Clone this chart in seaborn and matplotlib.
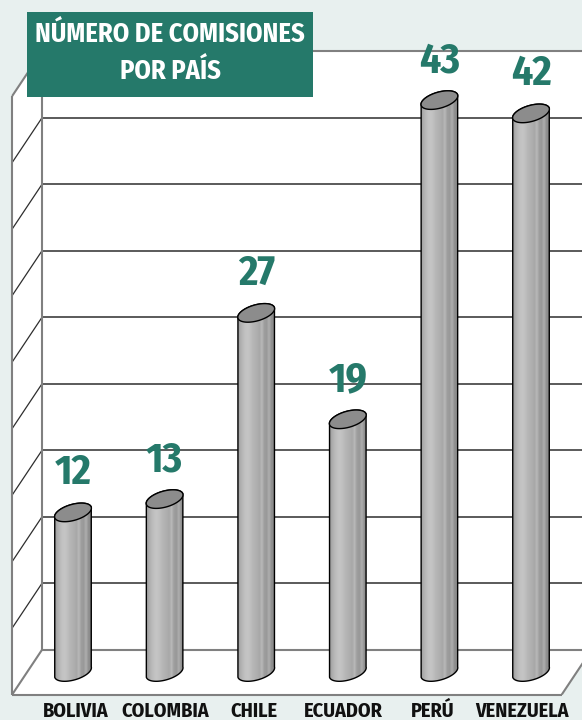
import numpy as np
import pandas as pd
import seaborn as sns
import matplotlib.pyplot as plt
from matplotlib.patches import Polygon, Rectangle

# data
countries = ["BOLIVIA", "COLOMBIA", "CHILE", "ECUADOR", "PERÚ", "VENEZUELA"]
comisiones = [12, 13, 27, 19, 43, 42]
levels = list(range(0, 50, 5))
title_lines = ["NÚMERO DE COMISIONES", "POR PAÍS"]

BG = '#e8f0ef'
GREEN = '#25796a'
WALL = '#808080'
GRID = '#2e2e2e'

sns.set_style('white')
plt.rcParams['font.family'] = ['Fira Sans Condensed', 'Roboto Condensed', 'Barlow Condensed',
                               'Archivo Narrow', 'PT Sans Narrow', 'Liberation Sans Narrow',
                               'DejaVu Sans']

df = pd.DataFrame({'pais': countries, 'n': comisiones})

fig = plt.figure(figsize=(5.82, 7.2), dpi=100, facecolor=BG)
ax = fig.add_axes([0, 20 / 720, 1, 700 / 720])
ax.set_facecolor('none')

XLIM = (-73 / 91.6, (582 - 73) / 91.6)
YLIM = (-28 / 13.3, 672 / 13.3)
PXX = 582 / (XLIM[1] - XLIM[0])
PXY = 700 / (YLIM[1] - YLIM[0])
DX, DY = 15, 22.5  # half depth of the box, in pixels


def shift(i, v, dx=0, dy=0):
    return (i + dx / PXX, v + dy / PXY)


sns.barplot(data=df, x='pais', y='n', ax=ax, color='#b0b0b0', width=38 / 91.6,
            errorbar=None, edgecolor='none', zorder=3)
bars = list(ax.patches)

# walls and floor
top = levels[-1]
FL_top = shift(-0.5, top, -DX, -DY)
BL_top = shift(-0.5, top, DX, DY)
BR_top = shift(5.5, top, DX, DY)
BR_bot = shift(5.5, 0, DX, DY)
FR_bot = shift(5.5, 0, -DX, -DY)
FL_bot = shift(-0.5, 0, -DX, -DY)
BL_bot = shift(-0.5, 0, DX, DY)
ax.add_patch(Polygon([FL_top, BL_top, BR_top, BR_bot, FR_bot, FL_bot],
                     closed=True, facecolor='white', edgecolor='none', zorder=0.5))

for p, q in [(FL_top, FL_bot), (FL_top, BL_top), (BL_top, BL_bot), (BL_top, BR_top),
             (FL_bot, FR_bot), (FR_bot, BR_bot), (BL_bot, BR_bot), (BL_bot, FL_bot)]:
    ax.plot([p[0], q[0]], [p[1], q[1]], color=WALL, lw=1.5, zorder=1.2,
            solid_capstyle='butt')

for lv in levels[1:-1]:
    b = shift(-0.5, lv, DX, DY)
    f = shift(-0.5, lv, -DX, -DY)
    r = shift(5.5, lv, DX, DY)
    ax.plot([b[0], r[0]], [b[1], r[1]], color=GRID, lw=1.1, zorder=1)
    ax.plot([b[0], f[0]], [b[1], f[1]], color=GRID, lw=0.9, zorder=1)

# cylinders
A, B, TH = 19, 8, np.deg2rad(16)
shade = np.array([0.62, 0.68, 0.73, 0.76, 0.77, 0.75, 0.72, 0.70, 0.68, 0.66,
                  0.72, 0.62, 0.60, 0.68, 0.57, 0.54])[None, :]


def ell(i, v, t):
    x = A * np.cos(t)
    y = B * np.sin(t)
    xr = x * np.cos(TH) - y * np.sin(TH)
    yr = x * np.sin(TH) + y * np.cos(TH)
    return np.column_stack([i + xr / PXX, v + yr / PXY])


for bar, val in zip(bars, comisiones):
    c = bar.get_x() + bar.get_width() / 2
    w = bar.get_width()
    h = bar.get_height()
    low = ell(c, 0, np.linspace(np.pi, 2 * np.pi, 60))
    up = ell(c, h, np.linspace(0, np.pi, 60))
    body = Polygon(np.vstack([low, up]), closed=True, facecolor='none',
                   edgecolor='black', lw=1.0, zorder=3.3)
    ax.add_patch(body)
    bar.set_clip_path(body)
    im = ax.imshow(shade, cmap='gray', vmin=0, vmax=1, aspect='auto',
                   interpolation='bilinear',
                   extent=(c - w / 2, c + w / 2, -2, h + 2), zorder=3.1)
    im.set_clip_path(body)
    cap = Polygon(ell(c, h, np.linspace(0, 2 * np.pi, 120)), closed=True,
                  facecolor='#8c8c8c', edgecolor='black', lw=1.0, zorder=3.4)
    ax.add_patch(cap)
    ax.text(c, h + 28 / PXY, str(val), ha='center', va='baseline', fontsize=30,
            fontweight='bold', color=GREEN, zorder=4)

ax.set_xlim(XLIM)
ax.set_ylim(YLIM)
ax.set_xticks(np.arange(len(countries)) * 0.975 + 0.03, countries)
ax.tick_params(axis='x', length=0, pad=1, labelsize=14.5)
for lab in ax.get_xticklabels():
    lab.set_fontweight('bold')
    lab.set_color('#111111')
ax.set_yticks([])
ax.set_xlabel('')
ax.set_ylabel('')
for s in ax.spines.values():
    s.set_visible(False)

# title box
fig.add_artist(Rectangle((27 / 582, 1 - 97 / 720), (313 - 27) / 582, 85 / 720,
                         transform=fig.transFigure, facecolor=GREEN,
                         edgecolor='none', zorder=5))
fig.text(170 / 582, 1 - 42 / 720, title_lines[0], ha='center', va='baseline',
         color='white', fontsize=19, fontweight='bold', zorder=6)
fig.text(170 / 582, 1 - 79 / 720, title_lines[1], ha='center', va='baseline',
         color='white', fontsize=19, fontweight='bold', zorder=6)

fig.savefig('out.png', dpi=100, facecolor=BG)
